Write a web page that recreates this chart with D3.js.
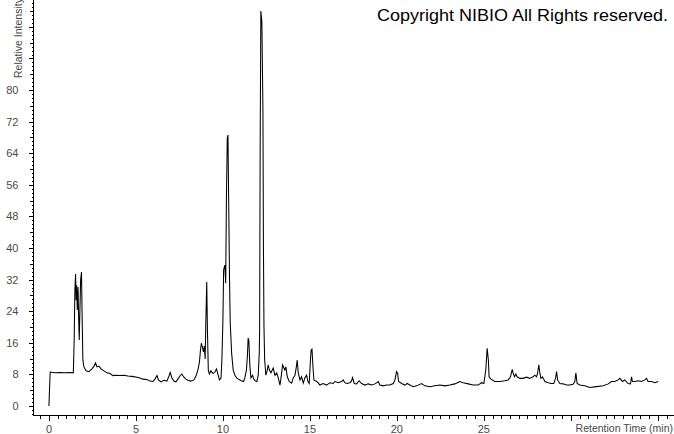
<!DOCTYPE html>
<html>
<head>
<meta charset="utf-8">
<script src="https://cdn.jsdelivr.net/npm/d3@7"></script>
<style>
html,body{margin:0;padding:0;background:#fff;}
svg{display:block;}
text{font-family:"Liberation Sans",Arial,sans-serif;}
</style>
</head>
<body>
<svg id="chart" width="674" height="434"></svg>
<script>
// Retention time (min)
const times = [0,0.02,0.07,0.34,0.63,0.92,1.21,1.40,1.45,1.49,1.53,1.56,1.59,1.63,1.67,1.71,1.74,1.78,1.82,1.87,1.91,1.95,2.01,2.13,2.30,2.47,2.59,2.68,2.76,2.87,2.99,3.16,3.33,3.51,3.68,3.85,4.08,4.31,4.54,4.77,5.06,5.23,5.40,5.63,5.80,5.98,6.09,6.21,6.29,6.44,6.61,6.78,6.90,6.97,7.07,7.18,7.30,7.41,7.53,7.64,7.76,7.87,7.99,8.16,8.33,8.45,8.56,8.65,8.71,8.76,8.82,8.88,8.93,8.98,9.02,9.07,9.11,9.16,9.22,9.31,9.43,9.54,9.63,9.71,9.80,9.89,9.94,10.00,10.04,10.11,10.16,10.20,10.25,10.29,10.33,10.38,10.42,10.50,10.59,10.69,10.79,10.89,10.98,11.09,11.18,11.26,11.35,11.41,11.45,11.49,11.55,11.61,11.70,11.78,11.87,11.95,12.03,12.09,12.11,12.14,12.18,12.24,12.30,12.33,12.36,12.40,12.47,12.55,12.60,12.67,12.76,12.89,12.99,13.09,13.18,13.28,13.36,13.43,13.51,13.56,13.62,13.70,13.81,13.95,14.04,14.14,14.21,14.27,14.33,14.43,14.52,14.62,14.71,14.81,14.89,14.96,15.03,15.07,15.12,15.17,15.23,15.39,15.49,15.57,15.76,15.96,16.15,16.34,16.44,16.63,16.82,16.91,17.01,17.11,17.30,17.39,17.45,17.55,17.68,17.83,17.97,18.16,18.35,18.55,18.74,18.93,19.02,19.21,19.41,19.60,19.79,19.89,19.98,20.04,20.10,20.27,20.46,20.59,20.75,20.94,21.13,21.42,21.61,21.90,22.18,22.47,22.76,23.05,23.33,23.62,23.81,24.10,24.39,24.67,24.87,25.00,25.11,25.19,25.26,25.30,25.40,25.63,25.92,26.21,26.40,26.53,26.63,26.68,26.76,26.84,26.91,27.07,27.26,27.45,27.64,27.83,27.93,28.03,28.09,28.16,28.22,28.28,28.37,28.51,28.70,28.89,29.02,29.12,29.18,29.24,29.37,29.56,29.75,29.94,30.13,30.23,30.29,30.36,30.52,30.80,31.09,31.48,31.86,32.15,32.34,32.53,32.72,32.82,32.97,33.10,33.29,33.43,33.49,33.54,33.68,33.87,34.06,34.25,34.35,34.44,34.64,34.83,35.02];
// Relative intensity (%)
const intensity = [0,2.8,8.6,8.4,8.5,8.4,8.5,8.4,16.7,29.4,33.4,26.8,30.6,24.3,30.1,21.8,16.7,24.3,31.9,33.9,21.8,11.6,9.9,8.9,8.7,9.4,10.1,10.9,9.9,10.1,9.4,8.9,8.4,8.2,7.7,7.8,7.7,7.8,7.6,7.5,7.3,7.1,6.8,6.7,6.3,6.2,6.8,7.7,6.6,6.1,6.5,6.3,7.6,8.5,7.1,6.3,6.1,6.8,7.6,8.1,7.3,6.8,6.5,6.3,6.6,7.6,9.1,11.1,14.2,15.9,14.9,13.7,15.2,11.9,21.8,31.4,19.2,9.1,8.1,8.9,8.2,8.6,9.4,8.1,6.6,7.1,11.6,21.8,34.4,35.7,31.1,52.2,67.8,68.6,52.2,31.9,21.0,13.4,9.1,7.8,7.1,6.8,6.6,6.3,6.2,7.1,9.1,12.9,17.2,16.7,10.1,7.1,7.8,6.8,6.3,6.2,7.8,13.4,19.2,64.8,100.0,97.2,74.9,39.5,20.0,11.6,7.8,9.1,10.4,9.1,8.4,9.6,7.8,8.4,7.1,5.3,7.8,10.4,9.6,9.1,9.9,7.4,6.2,5.8,7.1,7.8,9.6,11.6,8.4,6.6,7.4,5.8,7.1,7.8,6.2,5.7,11.6,14.2,14.4,10.4,6.6,6.2,5.8,5.3,5.7,5.3,5.9,5.7,6.2,5.9,6.2,6.6,5.9,5.7,5.9,6.3,7.2,5.7,5.6,6.4,5.7,5.3,5.6,5.3,5.6,6.2,5.3,5.1,5.3,5.3,5.7,6.6,8.7,8.3,6.2,5.7,5.3,5.7,5.3,4.9,5.1,5.7,5.1,4.9,5.1,5.3,5.1,5.3,5.6,6.2,5.9,5.6,5.3,5.3,5.9,5.7,9.1,14.6,11.6,7.4,6.8,6.2,6.2,6.4,6.6,7.4,9.3,8.3,7.4,8.1,7.4,7.0,7.0,7.3,7.0,7.4,7.8,7.4,8.3,10.4,8.3,7.0,7.4,6.2,5.9,5.7,5.7,7.0,8.7,6.6,5.7,5.6,5.3,5.3,5.5,6.2,8.4,5.7,5.3,5.1,4.7,4.9,5.1,5.6,6.2,6.2,6.6,7.0,6.2,6.6,5.7,5.6,7.4,6.2,6.2,6.4,6.2,6.6,7.0,6.2,6.2,5.9,6.2];
const xTickLabels = [0, 5, 10, 15, 20, 25];
const yTickLabels = [0, 8, 16, 24, 32, 40, 48, 56, 64, 72, 80];
const xAxisTitle = "Retention Time (min)";
const yAxisTitle = "Relative Intensity";
const copyright = "Copyright NIBIO All Rights reserved.";

const svg = d3.select("#chart");
const x = d3.scaleLinear().domain([-0.86, 35.93]).range([34, 674]);
const y = d3.scaleLinear().domain([-2.28, 102.8]).range([415, 0]);

const gray = "#4a4a4a";

// X axis
const xMinor = d3.range(-0.5, 35.51, 0.5);
const xg = svg.append("g").attr("transform", "translate(0,415.5)");
xg.append("line").attr("x1", 34).attr("x2", 674).attr("stroke", "#000").attr("shape-rendering", "crispEdges");
xg.selectAll("line.t").data(xMinor).enter().append("line")
  .attr("class", "t")
  .attr("x1", d => Math.round(x(d)) + 0.5).attr("x2", d => Math.round(x(d)) + 0.5)
  .attr("y1", 0).attr("y2", d => (Math.abs(d % 5) < 1e-6 ? 5 : 3))
  .attr("stroke", "#000").attr("shape-rendering", "crispEdges");
xg.selectAll("text").data(xTickLabels).enter().append("text")
  .attr("x", d => x(d)).attr("y", 17)
  .attr("text-anchor", "middle").attr("font-size", 11).attr("fill", gray)
  .text(d => d);

svg.append("text").attr("x", 673).attr("y", 432).attr("text-anchor", "end")
  .attr("font-size", 10.5).attr("fill", gray).text(xAxisTitle);

// Y axis
const yMinor = d3.range(-2, 103, 1);
const yg = svg.append("g").attr("transform", "translate(33.5,0)");
yg.append("line").attr("y1", 0).attr("y2", 416).attr("stroke", "#000").attr("shape-rendering", "crispEdges");
yg.selectAll("line.t").data(yMinor).enter().append("line")
  .attr("class", "t")
  .attr("y1", d => Math.round(y(d)) + 0.5).attr("y2", d => Math.round(y(d)) + 0.5)
  .attr("x1", 0).attr("x2", d => (d % 8 === 0 ? -5 : (d % 4 === 0 ? -4 : -2)))
  .attr("stroke", "#000").attr("shape-rendering", "crispEdges");
yg.selectAll("text").data(yTickLabels).enter().append("text")
  .attr("x", -15).attr("y", d => y(d) + 4)
  .attr("text-anchor", "end").attr("font-size", 11).attr("fill", gray)
  .text(d => d);

svg.append("text").attr("transform", "translate(22,78) rotate(-90)")
  .attr("font-size", 10.5).attr("fill", gray).text(yAxisTitle);

// Trace
const pts = times.map((t, i) => [t, intensity[i]]);
svg.append("path").datum(pts)
  .attr("d", d3.line().x(d => x(d[0])).y(d => y(d[1])))
  .attr("fill", "none").attr("stroke", "#000").attr("stroke-width", 1.05)
  .attr("stroke-linejoin", "miter");

// Copyright
svg.append("text").attr("x", 377).attr("y", 21)
  .attr("font-size", 16.5).attr("fill", "#000")
  .attr("textLength", 291).attr("lengthAdjust", "spacingAndGlyphs")
  .text(copyright);
</script>
</body>
</html>
